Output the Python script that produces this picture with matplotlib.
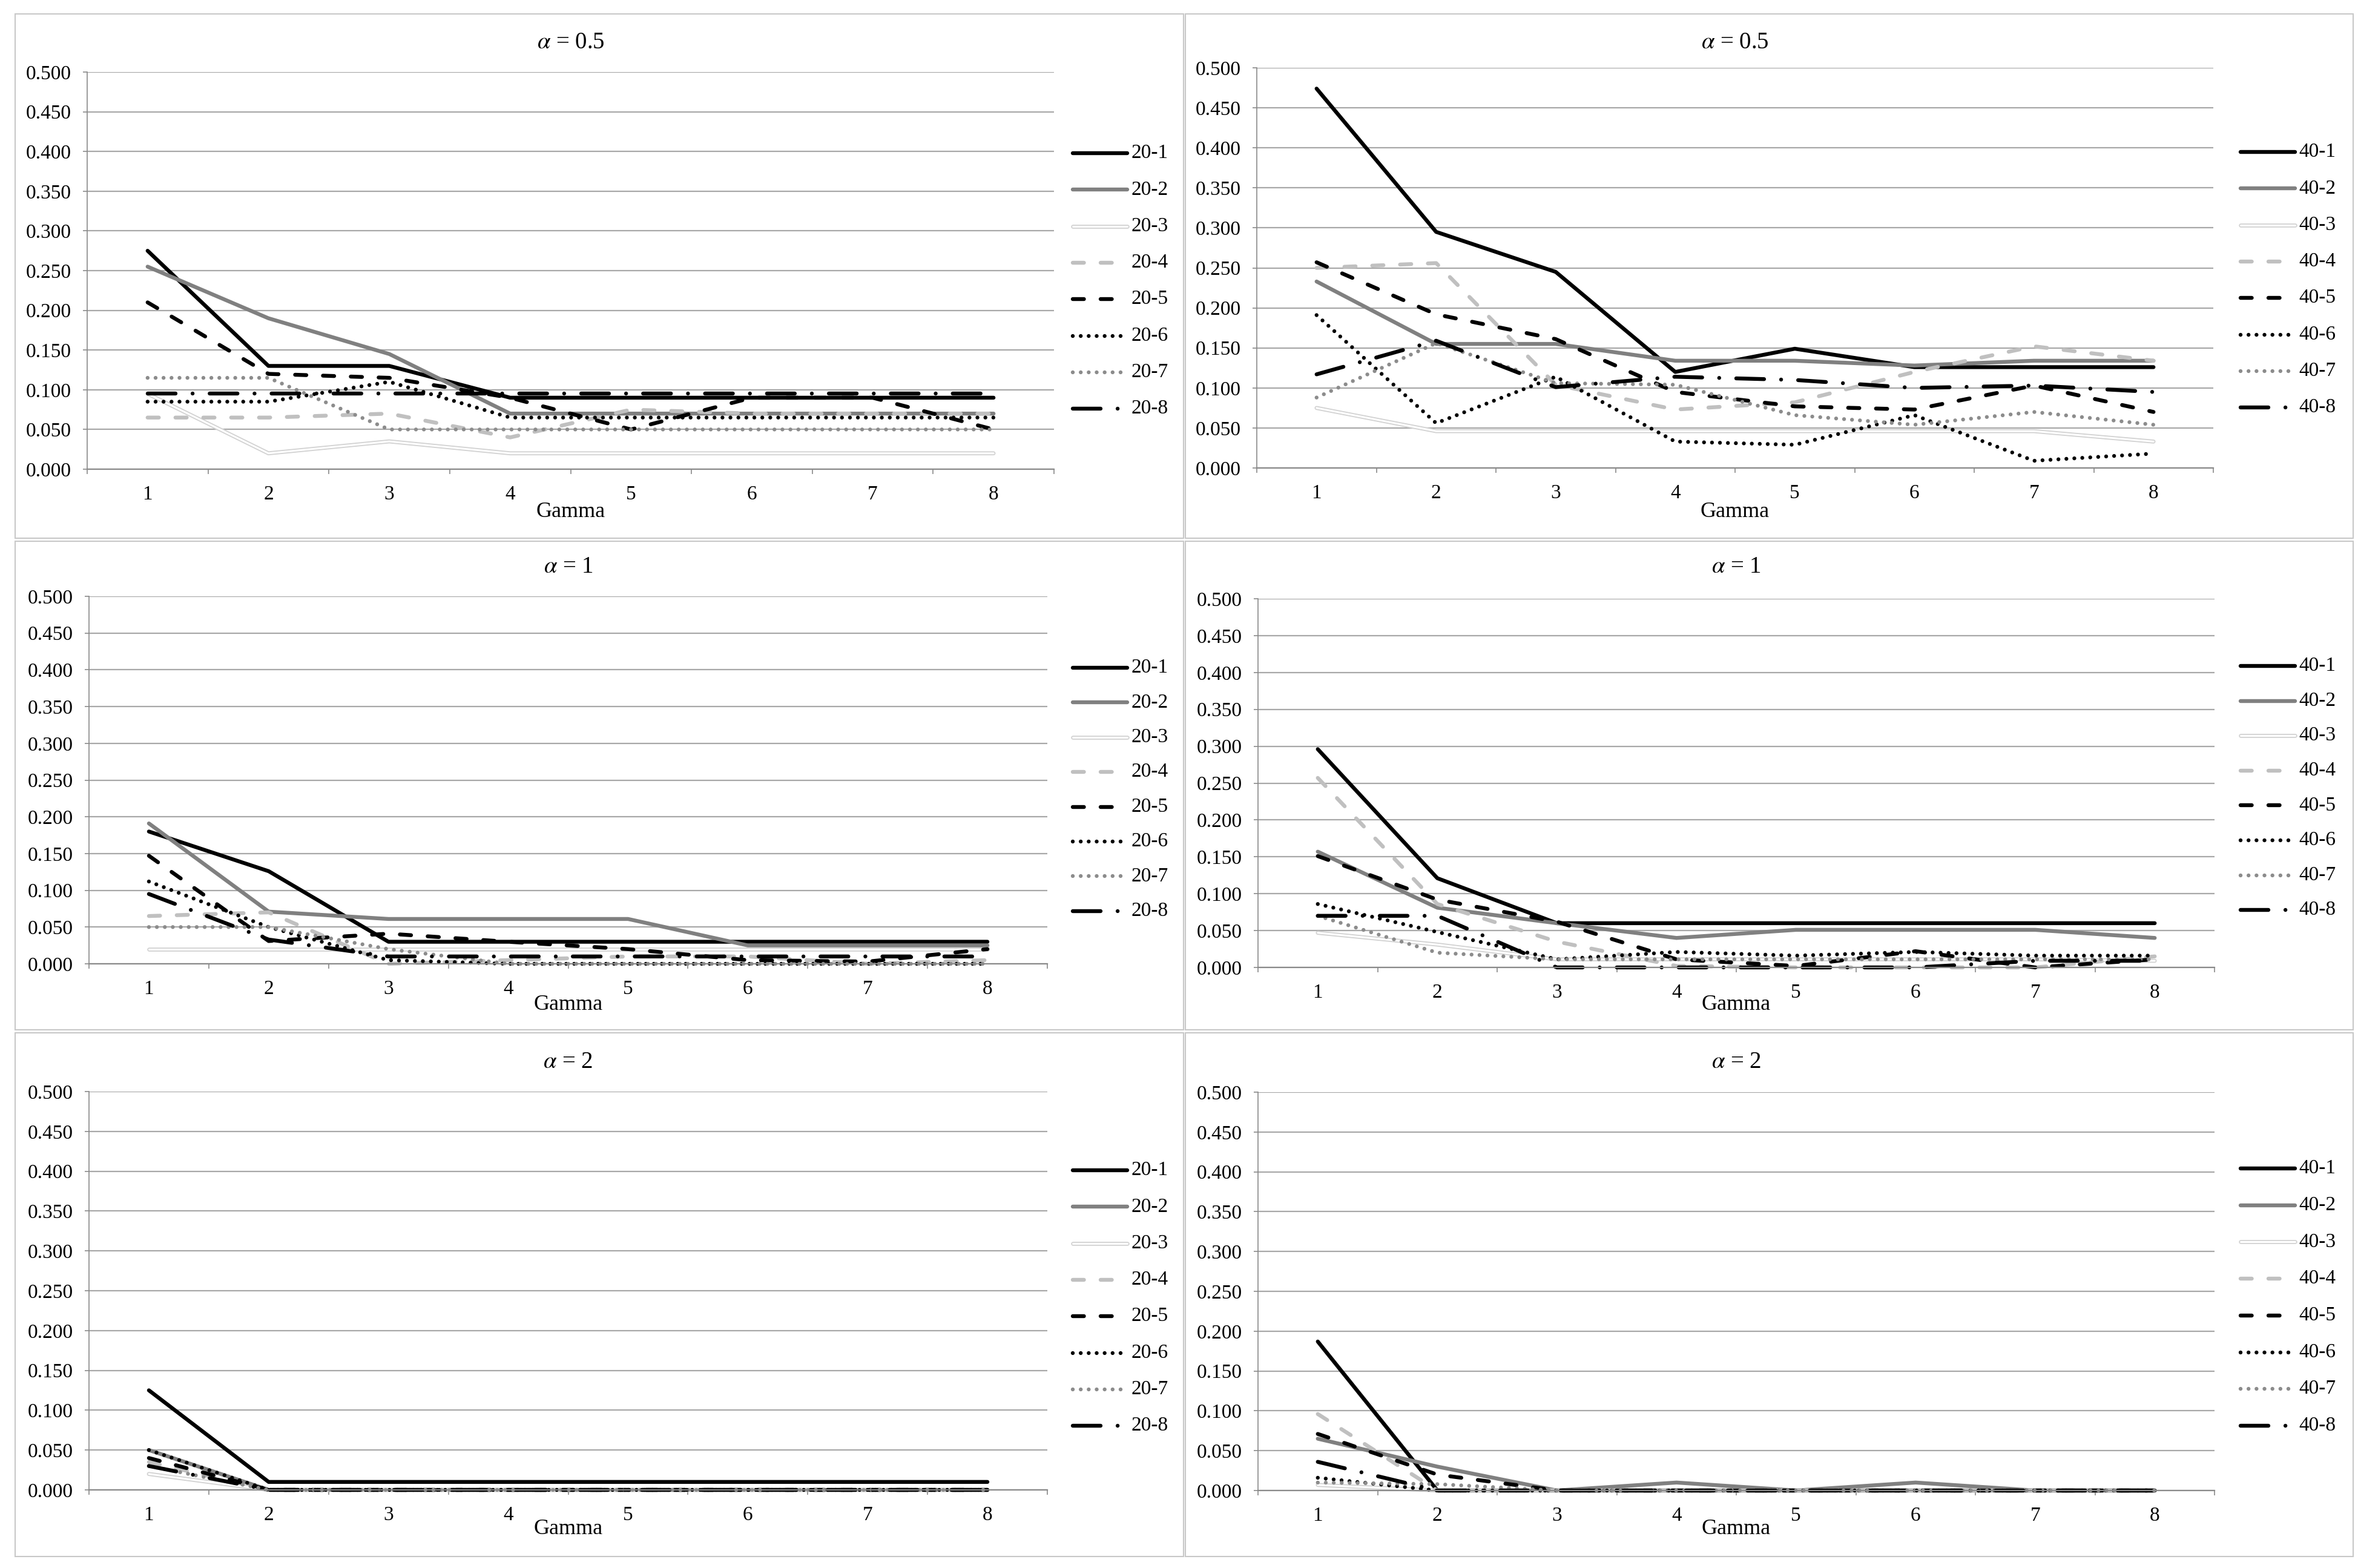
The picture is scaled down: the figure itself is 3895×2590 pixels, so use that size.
import matplotlib
matplotlib.use('Agg')
import matplotlib.pyplot as plt
import matplotlib.patheffects as pe
from matplotlib.lines import Line2D
from matplotlib.patches import Rectangle
from matplotlib.ticker import FixedLocator, FormatStrFormatter

plt.rcParams['font.family'] = ['Liberation Serif', 'DejaVu Serif']
plt.rcParams['mathtext.fontset'] = 'stix'

# figure size in pixels (dpi 100)
W, H = 3895, 2590

gamma = [1, 2, 3, 4, 5, 6, 7, 8]
yticks = [0.0, 0.05, 0.10, 0.15, 0.20, 0.25, 0.30, 0.35, 0.40, 0.45, 0.50]
labels_20 = ['20-1', '20-2', '20-3', '20-4', '20-5', '20-6', '20-7', '20-8']
labels_40 = ['40-1', '40-2', '40-3', '40-4', '40-5', '40-6', '40-7', '40-8']

# alpha = 0.5
a05_20 = [
    [0.275, 0.130, 0.130, 0.090, 0.090, 0.090, 0.090, 0.090],
    [0.255, 0.190, 0.145, 0.070, 0.070, 0.070, 0.070, 0.070],
    [0.095, 0.020, 0.035, 0.020, 0.020, 0.020, 0.020, 0.020],
    [0.065, 0.065, 0.070, 0.040, 0.075, 0.070, 0.070, 0.070],
    [0.210, 0.120, 0.115, 0.090, 0.050, 0.090, 0.090, 0.050],
    [0.085, 0.085, 0.110, 0.065, 0.065, 0.065, 0.065, 0.065],
    [0.115, 0.115, 0.050, 0.050, 0.050, 0.050, 0.050, 0.050],
    [0.095, 0.095, 0.095, 0.095, 0.095, 0.095, 0.095, 0.095],
]
a05_40 = [
    [0.474, 0.295, 0.245, 0.120, 0.149, 0.126, 0.126, 0.126],
    [0.233, 0.155, 0.155, 0.134, 0.134, 0.128, 0.134, 0.134],
    [0.075, 0.046, 0.046, 0.046, 0.046, 0.046, 0.046, 0.033],
    [0.250, 0.256, 0.104, 0.073, 0.082, 0.120, 0.152, 0.134],
    [0.257, 0.192, 0.161, 0.095, 0.077, 0.073, 0.103, 0.070],
    [0.191, 0.056, 0.114, 0.033, 0.029, 0.066, 0.009, 0.018],
    [0.088, 0.156, 0.106, 0.104, 0.066, 0.054, 0.070, 0.054],
    [0.117, 0.159, 0.101, 0.114, 0.110, 0.100, 0.103, 0.095],
]
# alpha = 1
a1_20 = [
    [0.180, 0.126, 0.030, 0.030, 0.030, 0.030, 0.030, 0.030],
    [0.191, 0.071, 0.061, 0.061, 0.061, 0.025, 0.025, 0.025],
    [0.020, 0.020, 0.020, 0.020, 0.020, 0.020, 0.020, 0.020],
    [0.065, 0.070, 0.000, 0.005, 0.010, 0.010, 0.000, 0.005],
    [0.147, 0.031, 0.041, 0.030, 0.020, 0.005, 0.003, 0.020],
    [0.112, 0.050, 0.005, 0.000, 0.000, 0.000, 0.000, 0.000],
    [0.050, 0.050, 0.020, 0.000, 0.000, 0.000, 0.000, 0.000],
    [0.095, 0.033, 0.010, 0.010, 0.010, 0.010, 0.010, 0.010],
]
a1_40 = [
    [0.296, 0.121, 0.060, 0.060, 0.060, 0.060, 0.060, 0.060],
    [0.157, 0.081, 0.060, 0.040, 0.051, 0.051, 0.051, 0.040],
    [0.047, 0.031, 0.011, 0.011, 0.011, 0.011, 0.011, 0.009],
    [0.257, 0.086, 0.035, 0.002, 0.000, 0.000, 0.000, 0.015],
    [0.151, 0.092, 0.062, 0.011, 0.002, 0.022, 0.000, 0.011],
    [0.086, 0.048, 0.011, 0.021, 0.016, 0.021, 0.016, 0.016],
    [0.070, 0.020, 0.011, 0.011, 0.011, 0.011, 0.011, 0.011],
    [0.070, 0.070, 0.000, 0.000, 0.000, 0.000, 0.009, 0.009],
]
# alpha = 2
a2_20 = [
    [0.125, 0.010, 0.010, 0.010, 0.010, 0.010, 0.010, 0.010],
    [0.050, 0.000, 0.000, 0.000, 0.000, 0.000, 0.000, 0.000],
    [0.020, 0.000, 0.000, 0.000, 0.000, 0.000, 0.000, 0.000],
    [0.035, 0.000, 0.000, 0.000, 0.000, 0.000, 0.000, 0.000],
    [0.040, 0.000, 0.000, 0.000, 0.000, 0.000, 0.000, 0.000],
    [0.050, 0.000, 0.000, 0.000, 0.000, 0.000, 0.000, 0.000],
    [0.030, 0.000, 0.000, 0.000, 0.000, 0.000, 0.000, 0.000],
    [0.030, 0.000, 0.000, 0.000, 0.000, 0.000, 0.000, 0.000],
]
a2_40 = [
    [0.187, 0.000, 0.000, 0.000, 0.000, 0.000, 0.000, 0.000],
    [0.065, 0.030, 0.000, 0.010, 0.000, 0.010, 0.000, 0.000],
    [0.007, 0.000, 0.000, 0.000, 0.000, 0.000, 0.000, 0.000],
    [0.096, 0.000, 0.000, 0.000, 0.000, 0.000, 0.000, 0.000],
    [0.071, 0.020, 0.000, 0.000, 0.000, 0.000, 0.000, 0.000],
    [0.016, 0.000, 0.000, 0.000, 0.000, 0.000, 0.000, 0.000],
    [0.010, 0.008, 0.000, 0.000, 0.000, 0.000, 0.000, 0.000],
    [0.036, 0.000, 0.000, 0.000, 0.000, 0.000, 0.000, 0.000],
]

LW = 4.6
FS = 24
styles = [
    dict(color='black', ls='-'),
    dict(color='#808080', ls='-'),
    dict(color='white', ls='-', lw=2.2,
         path_effects=[pe.Stroke(linewidth=LW + 0.2, foreground='#d2d2d2'), pe.Normal()]),
    dict(color='#c0c0c0', ls=(0, (2.9, 4.3))),
    dict(color='black', ls=(0, (2.9, 4.3))),
    dict(color='black', ls=(0, (0.01, 2.05))),
    dict(color='#8c8c8c', ls=(0, (0.01, 2.05))),
    dict(color='black', ls=(0, (7.2, 4.4, 0.01, 4.4))),
]

# (data, labels, title, plot box px (x0, x1, ytop, ybottom), legend first y, legend step, legend x, title y, xlabel y)
panels = [
    (a05_20, labels_20, '0.5', (144, 1741, 119, 775), 253, 60.3, 1772, 70, 845),
    (a05_40, labels_40, '0.5', (2076, 3656, 112, 773), 251, 60.3, 3701, 70, 845),
    (a1_20, labels_20, '1', (147, 1730, 985, 1592), 1103, 57.4, 1772, 936, 1659),
    (a1_40, labels_40, '1', (2078, 3658, 989, 1598), 1100, 57.6, 3701, 936, 1659),
    (a2_20, labels_20, '2', (147, 1730, 1803, 2461), 1933, 60.3, 1772, 1754, 2526),
    (a2_40, labels_40, '2', (2078, 3658, 1804, 2462), 1930, 60.7, 3701, 1754, 2526),
]


def fx(x):
    return x / W


def fy(y):
    return 1 - y / H


fig = plt.figure(figsize=(W / 100, H / 100), dpi=100)

# panel frames
frame_cols = [(25, 1955), (1958, 3887)]
frame_rows = [(23, 889), (894, 1701), (1706, 2571)]
for (r0, r1) in frame_rows:
    for (c0, c1) in frame_cols:
        fig.add_artist(Rectangle((fx(c0), fy(r1)), fx(c1) - fx(c0), fy(r0) - fy(r1),
                                 transform=fig.transFigure, fill=False,
                                 edgecolor='#c8c8c8', lw=1.5))

for data, labels, alpha, box, ly0, ldy, lx, ty, gy in panels:
    x0, x1, yt, yb = box
    ax = fig.add_axes([fx(x0), fy(yb), fx(x1) - fx(x0), fy(yt) - fy(yb)])
    for vals, st in zip(data, styles):
        kw = dict(st)
        lw = kw.pop('lw', LW)
        ax.plot(gamma, vals, lw=lw, solid_joinstyle='round', solid_capstyle='round',
                dash_capstyle='round', dash_joinstyle='round', clip_on=False, **kw)
    ax.set_xlim(0.5, 8.5)
    ax.set_ylim(0, 0.5)
    ax.yaxis.set_major_locator(FixedLocator(yticks))
    ax.yaxis.set_major_formatter(FormatStrFormatter('%.3f'))
    ax.xaxis.set_major_locator(FixedLocator(gamma))
    ax.xaxis.set_minor_locator(FixedLocator([i + 0.5 for i in range(9)]))
    ax.set_xticklabels([str(g) for g in gamma])
    ax.grid(axis='y', color='#a8a8a8', lw=1.6)
    ax.set_axisbelow(True)
    for s in ['top', 'right']:
        ax.spines[s].set_visible(False)
    ax.spines['left'].set_color('#8a8a8a')
    ax.spines['left'].set_linewidth(1.2)
    ax.spines['bottom'].set_color('#8a8a8a')
    ax.spines['bottom'].set_linewidth(1.6)
    ax.tick_params(axis='y', direction='out', length=5, width=1.2, color='#8a8a8a',
                   pad=14, labelsize=FS)
    ax.tick_params(axis='x', which='major', length=0, pad=19, labelsize=FS)
    ax.tick_params(axis='x', which='minor', direction='out', length=6, width=1.2,
                   color='#8a8a8a')
    cx = (x0 + x1) / 2
    fig.text(fx(cx), fy(ty), r'$\alpha$ = ' + alpha, ha='center', va='center', fontsize=28)
    fig.text(fx(cx), fy(gy), 'Gamma', ha='center', va='center', fontsize=26)

    # legend entries
    for i, (lab, st) in enumerate(zip(labels, styles)):
        kw = dict(st)
        lw = kw.pop('lw', LW)
        y = ly0 + i * ldy
        fig.add_artist(Line2D([fx(lx), fx(lx + 90)], [fy(y), fy(y)], transform=fig.transFigure,
                              lw=lw, solid_capstyle='round', dash_capstyle='round', **kw))
        fig.text(fx(lx + 96), fy(y), lab, ha='left', va='center', fontsize=FS)

fig.savefig('out.png', dpi=100, facecolor='white')
